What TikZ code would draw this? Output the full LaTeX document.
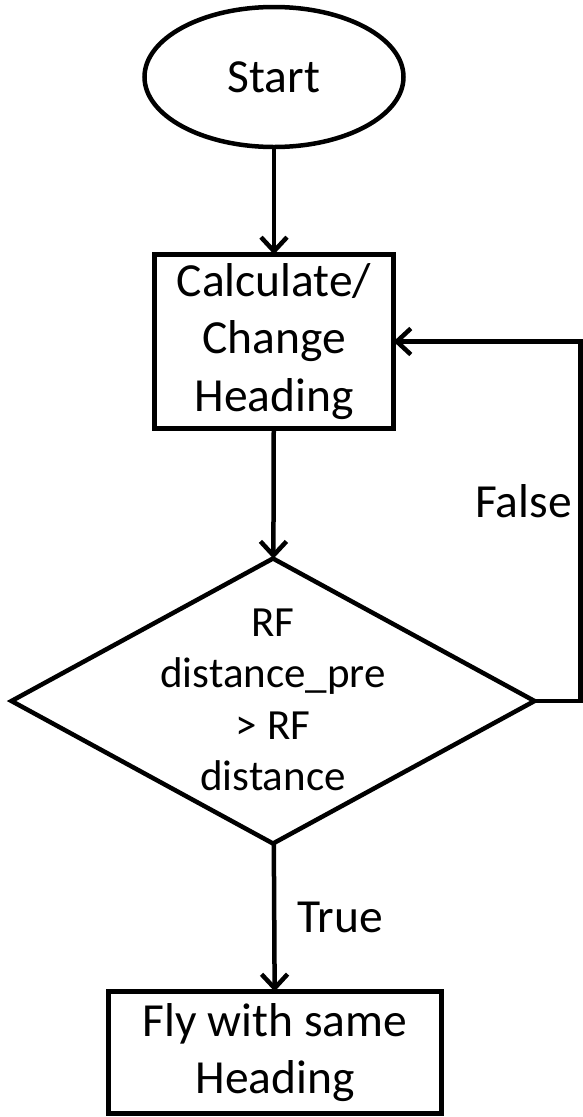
\documentclass[tikz,border=0pt]{standalone}
\usepackage{fontspec}
\setmainfont{Carlito}
\usetikzlibrary{shapes.geometric,arrows.meta}
\tikzset{
  shapeline/.style={draw=black, line width=4.5bp, inner sep=0pt, outer sep=0pt},
  boxnode/.style={shapeline, rectangle, align=center},
  bigtext/.style={font=\fontsize{47.5bp}{57.5bp}\selectfont},
  smalltext/.style={font=\fontsize{43bp}{51.5bp}\selectfont},
  flow/.style={line width=4.5bp, -{Straight Barb[length=14bp,width=26bp,line width=4.5bp]}},
  lbl/.style={bigtext, anchor=base, inner sep=0pt}
}
\begin{document}
\begin{tikzpicture}[x=1bp,y=-1bp]
\useasboundingbox (0,0) rectangle (583,1117);
\node[shapeline, ellipse, minimum width=259bp, minimum height=140bp, bigtext] (start) at (274,77) {Start};
\node[boxnode, minimum width=239bp, minimum height=174bp, bigtext] (calc) at (274,341.5) {Calculate/\\Change\\Heading};
\node[shapeline, diamond, minimum width=523bp, minimum height=285bp] (dec) at (273,701) {};
\node[smalltext, align=center, inner sep=0pt] (dectext) at (273,700) {RF\\distance\_pre\\> RF\\distance};
\node[boxnode, minimum width=333bp, minimum height=122bp, bigtext] (fly) at (275,1052.5) {Fly with same\\Heading};
\coordinate (corner) at (580.5,701);
\draw[flow] (start) -- (calc);
\draw[flow] (calc) -- (dec);
\draw[flow] (dec) -- (fly);
\node[lbl] (truelbl) at (340,932) {True};
\draw[flow] (dec.east) -- (corner) |- (calc.east);
\node[lbl] (falselbl) at (523.5,517) {False};
\end{tikzpicture}
\end{document}
